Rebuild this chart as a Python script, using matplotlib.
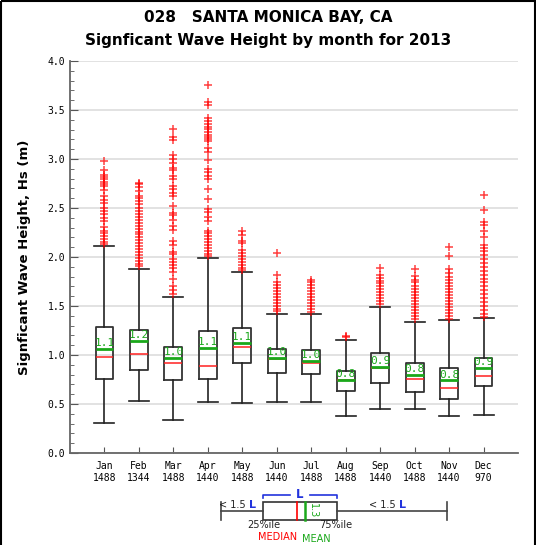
import matplotlib
matplotlib.use("Agg")
import matplotlib.pyplot as plt
from matplotlib.ticker import MultipleLocator

# monthly box stats
months = ['Jan', 'Feb', 'Mar', 'Apr', 'May', 'Jun', 'Jul', 'Aug', 'Sep', 'Oct', 'Nov', 'Dec']
counts = [1488, 1344, 1488, 1440, 1488, 1440, 1488, 1488, 1440, 1488, 1440, 970]
q1 = [0.755, 0.85, 0.745, 0.76, 0.915, 0.82, 0.81, 0.63, 0.71, 0.62, 0.555, 0.68]
q3 = [1.29, 1.26, 1.08, 1.25, 1.28, 1.06, 1.05, 0.84, 1.02, 0.915, 0.87, 0.97]
medians = [0.98, 1.01, 0.915, 0.89, 1.08, 0.96, 0.92, 0.745, 0.87, 0.76, 0.66, 0.79]
means = [1.06, 1.14, 0.97, 1.07, 1.125, 0.97, 0.94, 0.75, 0.875, 0.80, 0.74, 0.865]
whis_lo = [0.31, 0.53, 0.34, 0.52, 0.51, 0.52, 0.52, 0.38, 0.45, 0.45, 0.38, 0.39]
whis_hi = [2.11, 1.88, 1.595, 1.99, 1.85, 1.42, 1.415, 1.15, 1.49, 1.34, 1.355, 1.38]
mean_labels = ['1.1', '1.2', '1.0', '1.1', '1.1', '1.0', '1.0', '0.8', '0.9', '0.8', '0.8', '0.9']

outliers = [
    [2.98, 2.89, 2.84, 2.82, 2.80, 2.77, 2.75, 2.72, 2.68, 2.62, 2.58, 2.55, 2.50, 2.47,
     2.44, 2.40, 2.37, 2.31, 2.27, 2.24, 2.21, 2.18, 2.15, 2.13],
    [2.76, 2.74, 2.71, 2.67, 2.62, 2.60, 2.57, 2.54, 2.50, 2.47, 2.44, 2.41, 2.38, 2.35,
     2.32, 2.29, 2.26, 2.23, 2.20, 2.17, 2.14, 2.11, 2.08, 2.05, 2.02, 1.99, 1.96, 1.93, 1.91],
    [3.31, 3.22, 3.19, 3.04, 3.00, 2.96, 2.91, 2.89, 2.83, 2.80, 2.72, 2.69, 2.65, 2.62,
     2.52, 2.45, 2.43, 2.38, 2.32, 2.28, 2.16, 2.12, 2.05, 2.03, 1.98, 1.95, 1.92, 1.89,
     1.85, 1.78, 1.70, 1.66, 1.62],
    [3.76, 3.58, 3.55, 3.42, 3.39, 3.36, 3.33, 3.31, 3.28, 3.25, 3.22, 3.20, 3.18, 3.11,
     3.07, 2.99, 2.90, 2.87, 2.83, 2.80, 2.69, 2.59, 2.49, 2.46, 2.41, 2.37, 2.27, 2.24,
     2.21, 2.18, 2.15, 2.12, 2.09, 2.06, 2.03, 2.01],
    [2.27, 2.22, 2.16, 2.14, 2.07, 2.04, 2.01, 1.98, 1.95, 1.92, 1.89, 1.87],
    [2.04, 1.82, 1.75, 1.71, 1.68, 1.65, 1.62, 1.59, 1.56, 1.53, 1.50, 1.47, 1.45],
    [1.77, 1.74, 1.71, 1.68, 1.65, 1.62, 1.59, 1.56, 1.53, 1.50, 1.47, 1.44],
    [1.19, 1.18],
    [1.89, 1.82, 1.79, 1.76, 1.73, 1.70, 1.67, 1.64, 1.61, 1.58, 1.55, 1.52],
    [1.88, 1.81, 1.77, 1.74, 1.70, 1.67, 1.64, 1.61, 1.58, 1.55, 1.52, 1.49, 1.46, 1.43,
     1.40, 1.37],
    [2.10, 2.01, 1.88, 1.84, 1.80, 1.77, 1.73, 1.70, 1.67, 1.64, 1.61, 1.58, 1.55, 1.52,
     1.49, 1.46, 1.43, 1.40, 1.37],
    [2.63, 2.48, 2.36, 2.33, 2.27, 2.20, 2.12, 2.09, 2.06, 2.02, 1.98, 1.94, 1.90, 1.86,
     1.82, 1.78, 1.74, 1.70, 1.66, 1.62, 1.58, 1.54, 1.50, 1.46, 1.42, 1.39],
]

GREEN = '#1aa81a'
BLUE = '#2233dd'
mono = 'DejaVu Sans Mono'

stats = []
for i in range(len(months)):
    stats.append(dict(med=medians[i], q1=q1[i], q3=q3[i], whislo=whis_lo[i],
                      whishi=whis_hi[i], mean=means[i], fliers=outliers[i]))

fig = plt.figure(figsize=(5.36, 5.45), dpi=100)
ax = fig.add_axes([70 / 536, 92 / 545, 448 / 536, 392 / 545])

positions = list(range(1, len(months) + 1))
ax.bxp(stats, positions=positions, widths=0.52, showmeans=True, meanline=True,
       boxprops=dict(color='#333333', lw=1.3),
       whiskerprops=dict(color='#222222', lw=1.2),
       capprops=dict(color='#222222', lw=1.2), capwidths=0.58,
       medianprops=dict(color='#ff2020', lw=1.1),
       meanprops=dict(color=GREEN, lw=2.0, linestyle='-'),
       flierprops=dict(marker='+', markeredgecolor='red', markersize=5.5,
                       markeredgewidth=1.1, alpha=0.75))

for i, p in enumerate(positions):
    ax.text(p, means[i] + 0.01, mean_labels[i], color=GREEN, fontsize=8,
            family=mono, ha='center', va='bottom')

ax.set_xlim(0, 13)
ax.set_ylim(0, 4.0)
ax.set_xticks(positions)
ax.set_xticklabels([f'{m}\n{c}' for m, c in zip(months, counts)], family=mono, fontsize=7)
ax.yaxis.set_major_locator(MultipleLocator(0.5))
ax.yaxis.set_minor_locator(MultipleLocator(0.1))
ax.set_yticklabels([f'{v:.1f}' for v in ax.get_yticks()], family=mono, fontsize=7)
ax.tick_params(axis='y', which='major', direction='in', length=6, color='#555555')
ax.tick_params(axis='y', which='minor', direction='in', length=3, color='#555555')
ax.tick_params(axis='x', direction='in', length=4, color='#555555', pad=6)
ax.grid(axis='y', color='#dddddd', lw=1.2)
ax.set_axisbelow(True)
for s in ['top', 'right']:
    ax.spines[s].set_visible(False)
for s in ['left', 'bottom']:
    ax.spines[s].set_color('#666666')
    ax.spines[s].set_linewidth(1.3)
ax.set_ylabel('Signficant Wave Height, Hs (m)', fontsize=9.5, fontweight='bold', labelpad=12)

fig.text(0.5, 1 - 17 / 545, '028   SANTA MONICA BAY, CA', ha='center', va='center',
         fontsize=11, fontweight='bold')
fig.text(0.5, 1 - 41 / 545, 'Signficant Wave Height by month for 2013', ha='center',
         va='center', fontsize=11, fontweight='bold')

# legend diagram drawn in pixel coordinates
lg = fig.add_axes([0, 0, 1, 1], facecolor='none')
lg.set_xlim(0, 536)
lg.set_ylim(545, 0)
lg.axis('off')
lg.plot([221, 263], [511, 511], color='#444444', lw=1.2)
lg.plot([337, 447], [511, 511], color='#444444', lw=1.2)
lg.plot([221, 221], [502, 520], color='#444444', lw=1.2)
lg.plot([447, 447], [502, 520], color='#444444', lw=1.2)
lg.add_patch(plt.Rectangle((263, 502), 74, 18, fill=False, ec='#333333', lw=1.2))
lg.plot([297, 297], [502, 520], color='red', lw=1.2)
lg.plot([305, 305], [502, 520], color=GREEN, lw=1.8)
lg.text(308, 503, '1.3', color=GREEN, fontsize=7, rotation=-90, ha='left', va='top')
lg.plot([263, 263, 290], [498, 495, 495], color=BLUE, lw=1.2)
lg.plot([310, 337, 337], [495, 495, 498], color=BLUE, lw=1.2)
lg.text(300, 494, 'L', color=BLUE, fontsize=8.5, fontweight='bold', ha='center', va='center')
lg.text(246, 505, '< 1.5', color='#222222', fontsize=7, ha='right', va='center')
lg.text(249, 505, 'L', color=BLUE, fontsize=8, fontweight='bold', ha='left', va='center')
lg.text(396, 505, '< 1.5', color='#222222', fontsize=7, ha='right', va='center')
lg.text(399, 505, 'L', color=BLUE, fontsize=8, fontweight='bold', ha='left', va='center')
lg.text(264, 525, '25%ile', color='#222222', fontsize=7, ha='center', va='center')
lg.text(336, 525, '75%ile', color='#222222', fontsize=7, ha='center', va='center')
lg.text(278, 537, 'MEDIAN', color='red', fontsize=7, ha='center', va='center')
lg.text(316, 539, 'MEAN', color=GREEN, fontsize=7, ha='center', va='center')
lg.add_patch(plt.Rectangle((1, 1), 534, 560, fill=False, ec='black', lw=1.5))

fig.savefig('out.png', dpi=100)
